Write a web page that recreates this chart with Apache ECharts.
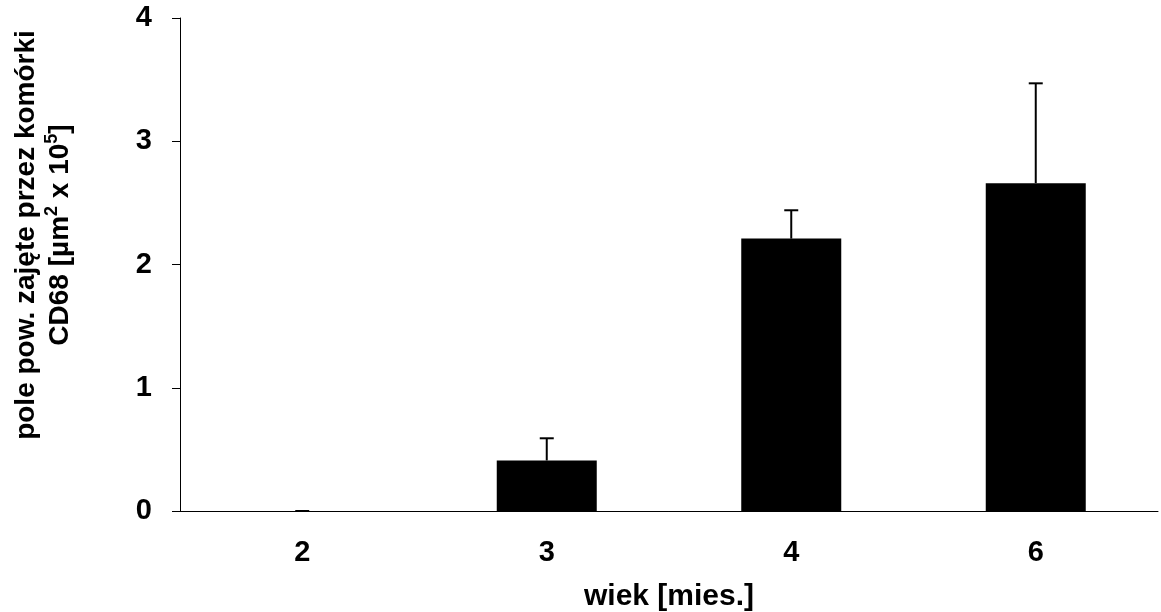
<!DOCTYPE html>
<html>
<head>
<meta charset="utf-8">
<style>
  html, body { margin: 0; padding: 0; background: #fff; }
  #chart { width: 1161px; height: 612px; }
</style>
<script src="https://cdn.jsdelivr.net/npm/echarts@6/dist/echarts.min.js"></script>
</head>
<body>
<div id="chart"></div>
<script>
// dane
const categories = ["2", "3", "4", "6"];
const means = [0, 0.41, 2.21, 2.66];
const errTop = [0, 0.59, 2.44, 3.47];
const yTicks = [0, 1, 2, 3, 4];

const font = "'Liberation Sans', Arial, sans-serif";
const chart = echarts.init(document.getElementById("chart"));

const errData = categories.map((c, i) => [i, means[i], errTop[i]]);

chart.setOption({
  animation: false,
  grid: { left: 180, right: 3, top: 18, bottom: 101, outerBoundsMode: "none", containLabel: false },
  xAxis: {
    type: "category",
    data: categories,
    name: "wiek [mies.]",
    nameLocation: "middle",
    nameGap: 71,
    nameMoveOverlap: false,
    nameTextStyle: { fontFamily: font, fontWeight: "bold", fontSize: 30, color: "#000" },
    axisLine: { lineStyle: { color: "#000", width: 1 } },
    axisTick: { length: 8, lineStyle: { color: "#000" } },
    axisLabel: { fontFamily: font, fontWeight: "bold", fontSize: 29, color: "#000", margin: 27 }
  },
  yAxis: {
    type: "value",
    min: yTicks[0],
    max: yTicks[yTicks.length - 1],
    interval: 1,
    splitLine: { show: false },
    axisLine: { show: true, lineStyle: { color: "#000", width: 1 } },
    axisTick: { show: true, length: 8, lineStyle: { color: "#000" } },
    axisLabel: { fontFamily: font, fontWeight: "bold", fontSize: 29, color: "#000", margin: 28 }
  },
  graphic: [{
    type: "text",
    x: 43,
    y: 235,
    rotation: Math.PI / 2,
    style: {
      text: "{a|pole pow. zajęte przez komórki}\n{a|CD68 [µm}{s|2}{a| x 10}{s|5}{a|]}",
      align: "center",
      verticalAlign: "middle",
      fill: "#000",
      rich: {
        a: { fontFamily: font, fontWeight: "bold", fontSize: 28, lineHeight: 34, fill: "#000" },
        s: { fontFamily: font, fontWeight: "bold", fontSize: 18, lineHeight: 34, fill: "#000", verticalAlign: "top", padding: [0, 0, 12, 0] }
      }
    }
  }],
  series: [
    {
      type: "bar",
      data: means,
      barWidth: 100,
      itemStyle: { color: "#000" },
      z: 2
    },
    {
      type: "custom",
      data: errData,
      z: 3,
      renderItem: function (params, api) {
        const x = api.value(0);
        const base = api.coord([x, api.value(1)]);
        const top = api.coord([x, api.value(2)]);
        const half = 7;
        return {
          type: "group",
          children: [
            { type: "line", shape: { x1: base[0], y1: base[1], x2: top[0], y2: top[1] }, style: { stroke: "#000", lineWidth: 2 } },
            { type: "line", shape: { x1: top[0] - half, y1: top[1], x2: top[0] + half, y2: top[1] }, style: { stroke: "#000", lineWidth: 2 } }
          ]
        };
      }
    }
  ]
});
</script>
</body>
</html>
